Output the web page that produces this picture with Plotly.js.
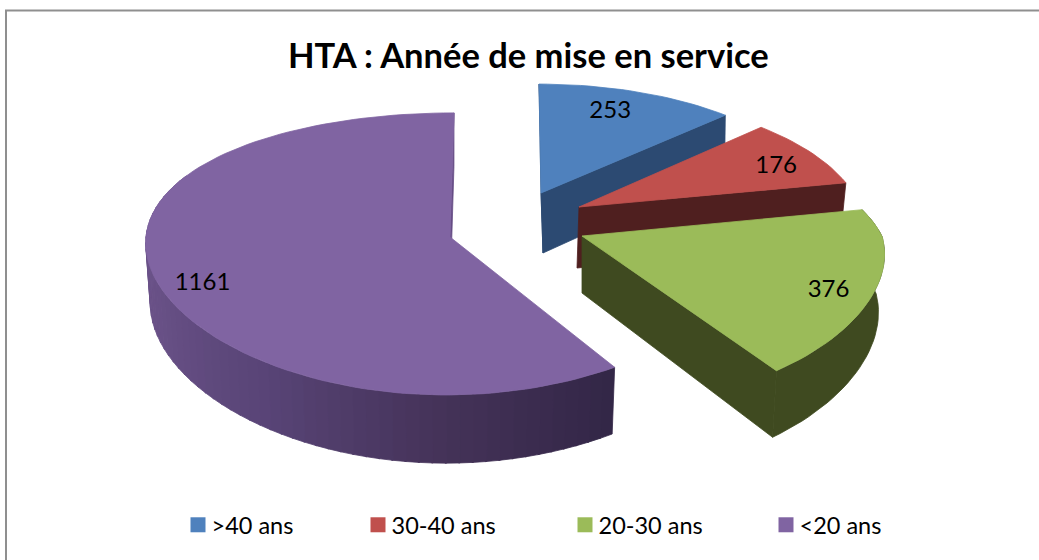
<!DOCTYPE html>
<html><head><meta charset="utf-8">
<script src="https://cdn.plot.ly/plotly-3.0.1.min.js"></script>
<style>html,body{margin:0;padding:0;background:#fff;overflow:hidden}
.legendtext,.legend2text,.legend3text,.legend4text{transform:translateX(-6.5px)}</style>
</head><body><div id="chart" style="width:1039px;height:560px"></div>
<script>
const categories = ['>40 ans', '30-40 ans', '20-30 ans', '<20 ans'];
const values = [253, 176, 376, 1161];
const topColors = ['#4f81bd', '#c0504d', '#9bbb59', '#8064a2'];
const sideColors = ['#2c4a72', '#4f1f1f', '#3f4a20', '#664d85'];
const chartTitle = 'HTA : Année de mise en service';

// 3D projection of each exploded slice (Excel-like perspective)
const geom = [
  {ax:541, ay:193, R:278, Ry:122, kx:.12, ky:.12, s:-2, sp:-2,  th:60, bdx:2,  bs:.985, lt:21,  lf:.77},
  {ax:579, ay:207, R:281, Ry:125, kx:.15, ky:.12, s:-3, sp:-3,  th:61, bdx:-2, bs:.985, lt:66,  lf:.81},
  {ax:582, ay:236, R:300, Ry:137, kx:0,   ky:.17, s:-39,sp:-70, th:57, bdx:0,  bs:.98,  lt:116, lf:.86},
  {ax:450, ay:237, R:304, Ry:139, kx:.03, ky:.12, s:4,  sp:4,   th:60, bdx:0,  bs:.985, lt:248, lf:.865}
];
const total = values.reduce((a,b)=>a+b,0);
function pt(g,deg,f){ f=f===undefined?1:f;
  const r=deg*Math.PI/180, u=Math.sin(r)*f, v=Math.cos(r)*f;
  return [g.ax+g.R*u/(1+g.kx*v)+(v>0?g.sp:g.s)*v, g.ay-g.Ry*v/(1+g.ky*v), 1/(1+g.ky*v)];
}
function low(g,deg){ const p=pt(g,deg); return [g.ax+(p[0]-g.ax)*g.bs+g.bdx, p[1]+g.th*p[2]]; }
function apexLow(g){ return [g.ax+g.bdx, g.ay+g.th]; }
function poly(pts,color){ 
  return {type:'scatter',mode:'lines',x:pts.map(p=>p[0]).concat(pts[0][0]),y:pts.map(p=>p[1]).concat(pts[0][1]),
    fill:'toself',fillcolor:color,line:{color:color,width:.8},hoverinfo:'skip',showlegend:false};
}
function arc(g,a,b){ const n=Math.max(2,Math.ceil(Math.abs(b-a)/2)),o=[]; for(let i=0;i<=n;i++)o.push(pt(g,a+(b-a)*i/n)); return o; }
function arcLow(g,a,b){ const n=Math.max(2,Math.ceil(Math.abs(b-a)/2)),o=[]; for(let i=0;i<=n;i++)o.push(low(g,a+(b-a)*i/n)); return o; }
function face(g,deg,color){ return poly([[g.ax,g.ay],pt(g,deg),low(g,deg),apexLow(g)],color); }

const gradStops = [[147,[50,38,70]],[180,[68,50,88]],[215,[88,68,118]],[250,[104,80,134]],[295,[110,85,140]]];
function gradColor(t){ for(let i=1;i<gradStops.length;i++){ if(t<=gradStops[i][0]){
  const a=gradStops[i-1],b=gradStops[i],q=(t-a[0])/(b[0]-a[0]);
  return 'rgb('+a[1].map((c,k)=>Math.round(c+(b[1][k]-c)*q)).join(',')+')'; } }
  return 'rgb(110,85,140)'; }

const traces=[]; let cum=0; const angles=values.map(v=>{const a=cum/total*360; cum+=v; return [a,cum/total*360];});
values.forEach((val,i)=>{
  const g=geom[i],[a,b]=angles[i];
  if(i===0){ traces.push(face(g,a,sideColors[i])); traces.push(face(g,b,sideColors[i])); }
  if(i===1){ traces.push(face(g,b,sideColors[i])); }
  if(i===2){ traces.push(face(g,b,sideColors[i]));
    traces.push(poly(arc(g,a,b).concat(arcLow(g,a,b).reverse()),sideColors[i])); }
  if(i===3){ traces.push(face(g,b,sideColors[i]));
    const step=2.5; for(let t=a;t<296;t+=step){ const e=Math.min(t+step+.3,300);
      traces.push(poly(arc(g,t,e).concat(arcLow(g,t,e).reverse()),gradColor(t+step/2))); } }
  traces.push(poly([[g.ax,g.ay]].concat(arc(g,a,b)),topColors[i]));
});
// value labels
const labelPts=geom.map(g=>pt(g,g.lt,g.lf));
traces.push({type:'scatter',mode:'text',x:labelPts.map(p=>p[0]),y:labelPts.map(p=>p[1]),text:values.map(String),
  textposition:'middle center',textfont:{family:'Lato, Carlito, sans-serif',size:24,color:'#000'},hoverinfo:'skip',showlegend:false});
// legend entries
const legendX=[178/1039,358/1039,565/1039,766/1039];
categories.forEach((c,i)=>{
  traces.push({type:'scatter',mode:'markers',x:[null],y:[null],name:c,legend:i?('legend'+(i+1)):'legend',
    marker:{symbol:'square',size:15,color:topColors[i]},showlegend:true,hoverinfo:'skip'});
});
const layout={width:1039,height:560,margin:{l:0,r:0,t:0,b:0},paper_bgcolor:'#fff',plot_bgcolor:'#fff',
  xaxis:{range:[0,1039],visible:false,fixedrange:true},
  yaxis:{range:[560,0],visible:false,fixedrange:true},
  title:{text:chartTitle,x:.5085,xanchor:'center',y:.9,yanchor:'middle',font:{family:'Lato, Carlito, sans-serif',size:34.5,color:'#000',weight:700}},
  showlegend:true,
  shapes:[{type:'rect',xref:'x',yref:'y',x0:6,y0:10.5,x1:1060,y1:600,line:{color:'#8f8f8f',width:2},layer:'below'}]
};
legendX.forEach((x,i)=>{
  layout[i?('legend'+(i+1)):'legend']={x:x,xanchor:'left',y:.0625,yanchor:'middle',bgcolor:'rgba(0,0,0,0)',borderwidth:0,
    font:{family:'Lato, Carlito, sans-serif',size:23.5,color:'#000'},itemwidth:30,itemsizing:'trace',orientation:'h',itemclick:false,itemdoubleclick:false};
});
Plotly.newPlot('chart',traces,layout,{displayModeBar:false,staticPlot:true});
</script></body></html>
